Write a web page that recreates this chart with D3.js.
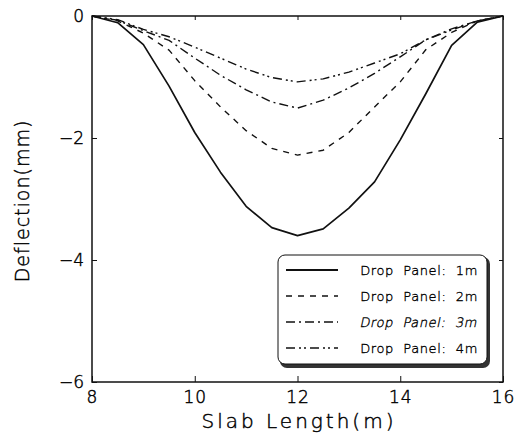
<!DOCTYPE html>
<html>
<head>
<meta charset="utf-8">
<script src="https://cdn.jsdelivr.net/npm/d3@7"></script>
<style>
  body { margin: 0; background: #fff; }
  text { font-family: "DejaVu Sans", sans-serif; font-weight: 200; fill: #000; stroke: #000; stroke-width: 0.45px; }
</style>
</head>
<body>
<div id="chart"></div>
<script>
// slab positions (m)
let slab_x = [8, 8.5, 9, 9.5, 10, 10.5, 11, 11.5, 12, 12.5, 13, 13.5, 14, 14.5, 15, 15.5, 16];

// deflection (mm) for each drop panel size
let panel_1m = [0, -0.11, -0.47, -1.15, -1.91, -2.56, -3.12, -3.47, -3.6, -3.49, -3.15, -2.72, -2.03, -1.27, -0.48, -0.1, 0];
let panel_2m = [0, -0.08, -0.28, -0.56, -1.06, -1.49, -1.88, -2.17, -2.28, -2.2, -1.91, -1.49, -1.08, -0.55, -0.27, -0.08, 0];
let panel_3m = [0, -0.07, -0.24, -0.4, -0.69, -0.97, -1.21, -1.41, -1.51, -1.38, -1.18, -0.94, -0.67, -0.39, -0.21, -0.08, 0];
let panel_4m = [0, -0.06, -0.22, -0.34, -0.51, -0.69, -0.87, -1.01, -1.08, -1.03, -0.92, -0.77, -0.62, -0.39, -0.23, -0.08, 0];

let legend_labels = ["Drop  Panel:  1m", "Drop  Panel:  2m", "Drop  Panel:  3m", "Drop  Panel:  4m"];
let x_ticks = [8, 10, 12, 14, 16];
let y_ticks = [0, -2, -4, -6];

let series = [
    {name: legend_labels[0], values: panel_1m, dash: null, italic: false},
    {name: legend_labels[1], values: panel_2m, dash: "6,6", italic: false},
    {name: legend_labels[2], values: panel_3m, dash: "9,4,2,4", italic: true},
    {name: legend_labels[3], values: panel_4m, dash: "9,4,2,3,2,4", italic: false}
];

let chart_width = 523;
let chart_height = 438;

let margin_left = 92;
let margin_top = 16;
let plot_w = 411;
let plot_h = 366;

let svg = d3.select("#chart")
    .append("svg")
    .attr("width", chart_width)
    .attr("height", chart_height);

let g = svg.append("g")
    .attr("transform", "translate(" + margin_left + "," + margin_top + ")");

let xScale = d3.scaleLinear().domain([8, 16]).range([0, plot_w]);
let yScale = d3.scaleLinear().domain([-6, 0]).range([plot_h, 0]);

// frame
g.append("rect")
    .attr("x", 0).attr("y", 0)
    .attr("width", plot_w).attr("height", plot_h)
    .attr("fill", "none")
    .attr("stroke", "#111")
    .attr("stroke-width", 1.5);

// bottom axis, ticks pointing inward
let x_axis = g.append("g")
    .attr("transform", "translate(0," + plot_h + ")")
    .call(d3.axisBottom(xScale).tickValues(x_ticks).tickSize(-6).tickPadding(8).tickFormat(d3.format("d")));
x_axis.select(".domain").remove();
x_axis.selectAll("text").attr("font-size", "17px").attr("dy", "0.75em").style("letter-spacing", "1px");

let x_axis_top = g.append("g")
    .call(d3.axisTop(xScale).tickValues(x_ticks).tickSize(-4).tickFormat(""));
x_axis_top.select(".domain").remove();

let y_axis = g.append("g")
    .call(d3.axisLeft(yScale).tickValues(y_ticks).tickSize(-5).tickPadding(8)
        .tickFormat(d => d < 0 ? "\u2212" + Math.abs(d) : d));
y_axis.select(".domain").remove();
y_axis.selectAll("text").attr("font-size", "17px");

let y_axis_right = g.append("g")
    .attr("transform", "translate(" + plot_w + ",0)")
    .call(d3.axisRight(yScale).tickValues(y_ticks).tickSize(-4).tickFormat(""));
y_axis_right.select(".domain").remove();

g.selectAll(".tick line").attr("stroke", "#111").attr("stroke-width", 1);
g.selectAll(".tick text").attr("fill", "#000");

// axis titles
svg.append("text")
    .attr("x", 299)
    .attr("y", 428)
    .attr("text-anchor", "middle")
    .attr("font-size", "20px")
    .style("letter-spacing", "3px")
    .text("Slab Length(m)");

svg.append("text")
    .attr("transform", "translate(29,201) rotate(-90)")
    .attr("text-anchor", "middle")
    .attr("font-size", "19px")
    .style("letter-spacing", "1px")
    .text("Deflection(mm)");

// curves
let line = d3.line()
    .x((d, i) => xScale(slab_x[i]))
    .y(d => yScale(d));

g.selectAll(".curve")
    .data(series)
    .enter()
    .append("path")
    .attr("class", "curve")
    .attr("d", d => line(d.values))
    .attr("fill", "none")
    .attr("stroke", "#111")
    .attr("stroke-width", d => d.dash ? 1.4 : 1.7)
    .attr("stroke-linejoin", "round")
    .attr("stroke-dasharray", d => d.dash);

// legend
let legend = svg.append("g").attr("transform", "translate(278,255)");

legend.append("rect")
    .attr("x", 2).attr("y", 2)
    .attr("width", 210).attr("height", 111)
    .attr("rx", 7)
    .attr("fill", "#333");

legend.append("rect")
    .attr("x", 0).attr("y", 0)
    .attr("width", 209).attr("height", 109)
    .attr("rx", 7)
    .attr("fill", "#fff")
    .attr("stroke", "#111")
    .attr("stroke-width", 1);

let legend_rows = legend.selectAll(".row")
    .data(series)
    .enter()
    .append("g")
    .attr("class", "row")
    .attr("transform", (d, i) => "translate(0," + (15 + i * 26) + ")");

legend_rows.append("line")
    .attr("x1", 8).attr("x2", 60)
    .attr("y1", 0).attr("y2", 0)
    .attr("stroke", "#111")
    .attr("stroke-width", d => d.dash ? 1.4 : 1.8)
    .attr("stroke-dasharray", d => d.dash);

// the 3m label is slanted by skewing the same light face
legend_rows.append("text")
    .attr("x", 200)
    .attr("y", 0)
    .attr("dy", "0.35em")
    .attr("text-anchor", "end")
    .attr("font-size", "13px")
    .attr("transform", d => d.italic ? "skewX(-12)" : null)
    .style("white-space", "pre")
    .style("letter-spacing", "0.6px")
    .style("stroke-width", "0.35px")
    .text(d => d.name);
</script>
</body>
</html>
